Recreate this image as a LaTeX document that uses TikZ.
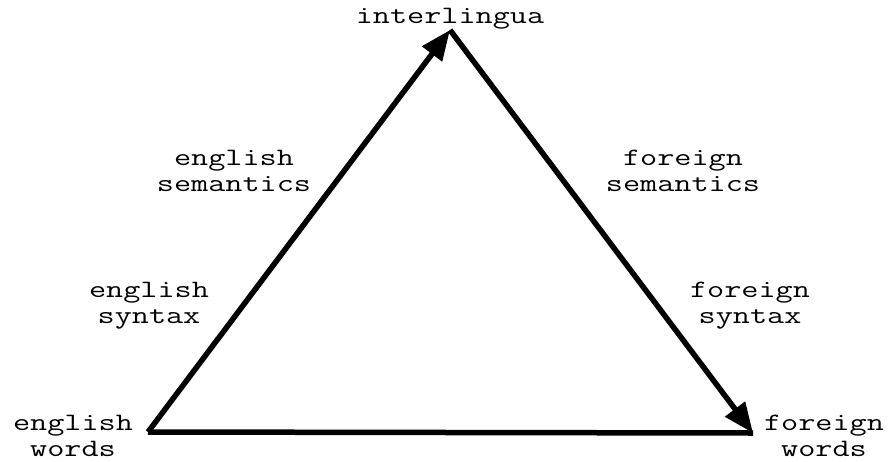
\documentclass[tikz,border=0pt]{standalone}
\usepackage{fontspec}
\newfontfamily\cour[FakeStretch=1.33]{Latin Modern Mono}
\usetikzlibrary{arrows.meta}
\begin{document}
\begin{tikzpicture}[x=1pt,y=-1pt,
  lbl/.style={font=\cour\fontsize{25}{26}\selectfont, align=center, inner sep=0pt},
  edge/.style={line width=5.5pt},
  arr/.style={edge, -{Triangle[length=30pt,width=24pt]}}]
\useasboundingbox (0,0) rectangle (891,461);
\coordinate (EL) at (148,432);
\coordinate (TOP) at (450,30);
\coordinate (FR) at (753,433);
\draw[edge] (EL) -- (FR);
\draw[arr] (EL) -- (TOP);
\draw[arr] (TOP) -- (FR);
\node[lbl] (inter) at (450,19) {interlingua};
\node[lbl] (esem) at (234,171) {english\\semantics};
\node[lbl] (fsem) at (683,171) {foreign\\semantics};
\node[lbl] (esyn) at (149,306) {english\\syntax};
\node[lbl] (fsyn) at (750,306) {foreign\\syntax};
\node[lbl] (ewd) at (73,436) {english\\words};
\node[lbl] (fwd) at (824,436) {foreign\\words};
\end{tikzpicture}
\end{document}
